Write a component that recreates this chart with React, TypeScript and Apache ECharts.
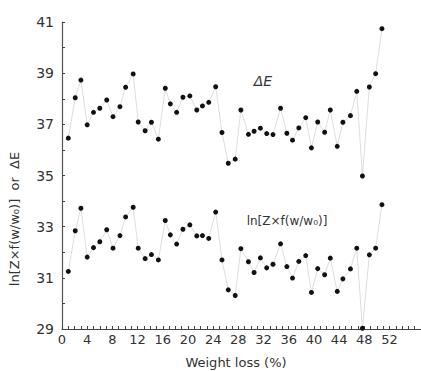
import React, { useEffect, useRef } from "react";
import * as echarts from "echarts";

const weightLoss = [1.0, 2.1, 3.0, 4.0, 5.0, 6.0, 7.1, 8.1, 9.2, 10.1, 11.3, 12.1, 13.2, 14.2, 15.3, 16.4, 17.2, 18.2, 19.2, 20.3, 21.4, 22.3, 23.3, 24.4, 25.4, 26.4, 27.5, 28.4, 29.6, 30.5, 31.5, 32.5, 33.5, 34.7, 35.7, 36.6, 37.6, 38.7, 39.6, 40.6, 41.7, 42.6, 43.7, 44.6, 45.8, 46.8, 47.7, 48.8, 49.8, 50.8];
const deltaE = [36.46, 38.04, 38.73, 36.98, 37.47, 37.63, 37.95, 37.3, 37.69, 38.45, 38.97, 37.09, 36.75, 37.08, 36.42, 38.41, 37.8, 37.47, 38.06, 38.11, 37.56, 37.72, 37.86, 38.47, 36.68, 35.48, 35.64, 37.56, 36.61, 36.73, 36.85, 36.64, 36.6, 37.63, 36.65, 36.38, 36.86, 37.26, 36.08, 37.09, 36.69, 37.56, 36.14, 37.08, 37.34, 38.29, 34.98, 38.46, 38.98, 40.74];
const lnZf = [31.25, 32.84, 33.72, 31.81, 32.18, 32.41, 32.88, 32.16, 32.65, 33.38, 33.76, 32.16, 31.75, 31.91, 31.7, 33.24, 32.68, 32.32, 32.9, 33.07, 32.64, 32.65, 32.54, 33.57, 31.7, 30.53, 30.31, 32.14, 31.63, 31.21, 31.78, 31.39, 31.53, 32.33, 31.44, 30.99, 31.64, 31.87, 30.43, 31.36, 31.12, 31.77, 30.47, 30.96, 31.35, 32.16, 29.03, 31.9, 32.16, 33.86];

const xLabelEvery = 4;
const xLabelMax = 52;

const FONT = "DejaVu Sans";

export default function App() {
  const ref = useRef<HTMLDivElement>(null);
  useEffect(() => {
    if (!ref.current) return;
    const chart = echarts.init(ref.current, null, { renderer: "svg" });
    const pair = (ys: number[]) => ys.map((y, i) => [weightLoss[i], y]);
    const mkSeries = (name: string, ys: number[]) => ({
      name,
      type: "line",
      data: pair(ys),
      symbol: "circle",
      symbolSize: 5,
      clip: false,
      itemStyle: { color: "#111" },
      lineStyle: { color: "#d9d9d9", width: 0.9 },
    });
    chart.setOption({
      animation: false,
      backgroundColor: "#fff",
      grid: { left: 62, right: 0, top: 22, bottom: 42 },
      xAxis: {
        type: "value",
        min: 0,
        max: 57,
        interval: 1,
        splitLine: { show: false },
        axisLine: { lineStyle: { color: "#444", width: 1.2 } },
        axisTick: { inside: true, length: 3, lineStyle: { color: "#444" } },
        axisLabel: {
          color: "#333",
          fontFamily: FONT,
          fontSize: 13,
          margin: 4,
          showMaxLabel: false,
          formatter: (v: number) =>
            v % xLabelEvery === 0 && v <= xLabelMax ? String(v) : "",
        },
      },
      yAxis: {
        type: "value",
        min: 29,
        max: 41,
        interval: 1,
        splitLine: { show: false },
        axisLine: { lineStyle: { color: "#555", width: 1.2 } },
        axisTick: { inside: true, length: 3, lineStyle: { color: "#444" } },
        axisLabel: {
          color: "#333",
          fontFamily: FONT,
          fontSize: 14,
          margin: 8,
          formatter: (v: number) => (v % 2 === 1 ? String(v) : ""),
        },
      },
      series: [mkSeries("ΔE", deltaE), mkSeries("ln", lnZf)],
      graphic: [
        {
          type: "text",
          x: 14,
          y: 219,
          rotation: Math.PI / 2,
          style: {
            text: "ln[Z×f(w/w₀)]  or  ΔE",
            font: `13px "${FONT}"`,
            fill: "#333",
            align: "center",
            verticalAlign: "middle",
          },
        },
        {
          type: "text",
          x: 236,
          y: 362,
          style: {
            text: "Weight loss (%)",
            font: `13px "${FONT}"`,
            fill: "#333",
            align: "center",
            verticalAlign: "middle",
          },
        },
        {
          type: "text",
          x: 263,
          y: 81,
          style: {
            text: "ΔE",
            font: `italic 14px "${FONT}"`,
            fill: "#333",
            align: "center",
            verticalAlign: "middle",
          },
        },
        {
          type: "text",
          x: 287,
          y: 221,
          style: {
            text: "ln[Z×f(w/w₀)]",
            font: `12px "${FONT}"`,
            fill: "#333",
            align: "center",
            verticalAlign: "middle",
          },
        },
      ],
    });
    return () => chart.dispose();
  }, []);
  return (
    <div
      ref={ref}
      style={{ position: "absolute", left: 0, top: 0, width: 421, height: 371 }}
    />
  );
}
